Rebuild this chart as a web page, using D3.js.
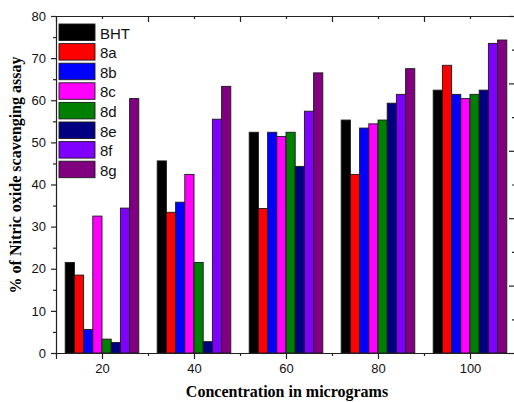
<!DOCTYPE html>
<html>
<head>
<meta charset="utf-8">
<script src="https://d3js.org/d3.v7.min.js"></script>
<style>
    body { margin: 0; background: #fff; }
    svg { display: block; }
    .tick text { font-family: "Liberation Sans", Arial, sans-serif; font-size: 13px; fill: #111; }
    .axis path, .axis line { stroke: #222; stroke-width: 1.2; }
</style>
</head>
<body>
<div id="chart"></div>
<script>
// data
const concentrations = [20, 40, 60, 80, 100];
const seriesNames = ["BHT", "8a", "8b", "8c", "8d", "8e", "8f", "8g"];
const seriesColors = ["#000000", "#ff0000", "#0000ff", "#ff00ff", "#008000", "#000080", "#8000ff", "#800080"];
const BHT = [21.5, 45.6, 52.4, 55.3, 62.4];
const s8a = [18.5, 33.4, 34.3, 42.4, 68.3];
const s8b = [5.6, 35.8, 52.4, 53.4, 61.4];
const s8c = [32.5, 42.4, 51.4, 54.4, 60.4];
const s8d = [3.3, 21.5, 52.4, 55.3, 61.4];
const s8e = [2.5, 2.7, 44.3, 59.3, 62.4];
const s8f = [34.4, 55.5, 57.4, 61.4, 73.5];
const s8g = [60.4, 63.3, 66.5, 67.5, 74.3];
const yTicks = [0, 10, 20, 30, 40, 50, 60, 70, 80];

const seriesValues = [BHT, s8a, s8b, s8c, s8d, s8e, s8f, s8g];

const graph = {
    margin: {top: 16, left: 56},
    width: 460,
    height: 337,
    barUnits: 2
};

const svg = d3.select("#chart").append("svg")
    .attr("width", 514)
    .attr("height", 402);

const g = svg.append("g")
    .attr("transform", "translate(" + graph.margin.left + "," + graph.margin.top + ")");

const x = d3.scaleLinear().domain([10, 110]).range([0, graph.width]);
const y = d3.scaleLinear().domain([0, 80]).range([graph.height, 0]);
const yRight = d3.scaleLinear().domain([0, 100]).range([graph.height, 0]);

// bars
seriesValues.forEach(function (values, i) {
    g.append("g").selectAll("rect")
        .data(values)
        .enter().append("rect")
        .attr("x", function (d, j) {
            return x(concentrations[j] - 8 + i * graph.barUnits);
        })
        .attr("width", x(10 + graph.barUnits) - x(10))
        .attr("y", function (d) { return y(d); })
        .attr("height", function (d) { return graph.height - y(d); })
        .attr("fill", seriesColors[i])
        .attr("stroke", "#1a1a1a")
        .attr("stroke-width", 0.9);
});

// left axis
g.append("g").attr("class", "axis")
    .call(d3.axisLeft(y).tickValues(yTicks).tickSize(5).tickPadding(5).tickFormat(d3.format("d")));
g.append("g").attr("class", "axis")
    .call(d3.axisLeft(y).tickValues([5, 15, 25, 35, 45, 55, 65, 75]).tickSize(3).tickFormat(""))
    .select(".domain").remove();

// bottom axis
g.append("g").attr("class", "axis")
    .attr("transform", "translate(0," + graph.height + ")")
    .call(d3.axisBottom(x).tickValues(concentrations).tickSize(6).tickPadding(5).tickFormat(d3.format("d")));
g.append("g").attr("class", "axis")
    .attr("transform", "translate(0," + graph.height + ")")
    .call(d3.axisBottom(x).tickValues([10, 30, 50, 70, 90]).tickSize(3).tickFormat(""))
    .select(".domain").remove();

// top axis, ticks inside
g.append("g").attr("class", "axis")
    .call(d3.axisTop(x).tickValues([30, 50, 70, 90]).tickSize(-6).tickFormat(""));
g.append("g").attr("class", "axis")
    .call(d3.axisTop(x).tickValues(concentrations).tickSize(-3).tickFormat(""))
    .select(".domain").remove();

// right axis, ticks inside, no labels
g.append("g").attr("class", "axis")
    .attr("transform", "translate(" + graph.width + ",0)")
    .call(d3.axisRight(yRight).tickValues([0, 20, 40, 60, 80, 100]).tickSize(-7).tickFormat(""));
g.append("g").attr("class", "axis")
    .attr("transform", "translate(" + graph.width + ",0)")
    .call(d3.axisRight(yRight).tickValues([10, 30, 50, 70, 90]).tickSize(-4).tickFormat(""))
    .select(".domain").remove();

g.selectAll(".axis .domain").attr("stroke", "#222");

// legend
const legend = g.append("g").attr("transform", "translate(3,8)");
seriesNames.forEach(function (name, i) {
    const row = legend.append("g").attr("transform", "translate(0," + (i * 19.6) + ")");
    row.append("rect")
        .attr("width", 36).attr("height", 16.5)
        .attr("fill", seriesColors[i])
        .attr("stroke", "#1a1a1a").attr("stroke-width", 0.9);
    row.append("text")
        .attr("x", 41).attr("y", 14.5)
        .style("font-family", "'Liberation Sans', Arial, sans-serif")
        .style("font-size", "15px")
        .attr("fill", "#111")
        .text(name);
});

// axis titles
svg.append("text")
    .attr("x", 287).attr("y", 397)
    .attr("text-anchor", "middle")
    .style("font-family", "'Liberation Serif', 'Times New Roman', serif")
    .style("font-weight", "bold")
    .style("font-size", "16px")
    .text("Concentration in micrograms");

svg.append("text")
    .attr("transform", "translate(21,175) rotate(-90)")
    .attr("text-anchor", "middle")
    .style("font-family", "'Liberation Serif', 'Times New Roman', serif")
    .style("font-weight", "bold")
    .style("font-size", "16px")
    .text("% of Nitric oxide scavenging assay");
</script>
</body>
</html>
